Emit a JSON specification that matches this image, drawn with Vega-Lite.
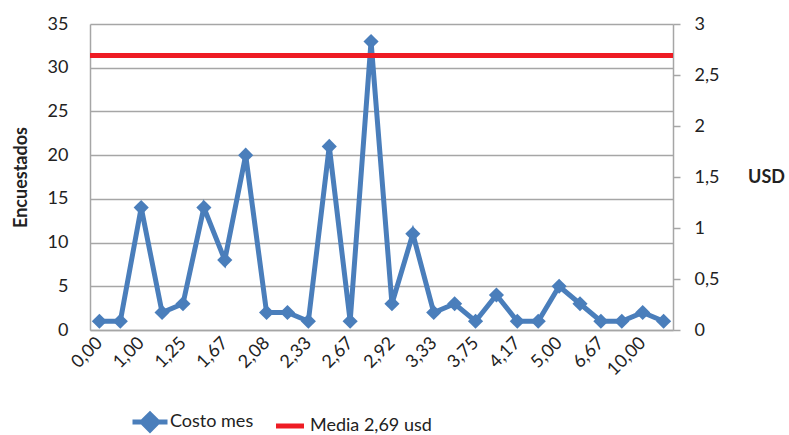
{
  "$schema": "https://vega.github.io/schema/vega-lite/v6.json",
  "width": 583,
  "height": 306,
  "autosize": {"type": "none"},
  "padding": {"left": 90, "top": 24, "right": 116, "bottom": 105},
  "config": {
    "font": "Lato",
    "view": {"stroke": null},
    "axis": {"labelColor": "#222222", "titleColor": "#222222", "labelFontSize": 18, "titleFontSize": 18, "labelFont": "Lato", "titleFont": "Lato"}
  },
  "data": {
    "values": [
      {"costo": "0,00", "n": 1},
      {"costo": "0,50", "n": 1},
      {"costo": "1,00", "n": 14},
      {"costo": "1,17", "n": 2},
      {"costo": "1,25", "n": 3},
      {"costo": "1,50", "n": 14},
      {"costo": "1,67", "n": 8},
      {"costo": "2,00", "n": 20},
      {"costo": "2,08", "n": 2},
      {"costo": "2,17", "n": 2},
      {"costo": "2,33", "n": 1},
      {"costo": "2,50", "n": 21},
      {"costo": "2,67", "n": 1},
      {"costo": "2,83", "n": 33},
      {"costo": "2,92", "n": 3},
      {"costo": "3,00", "n": 11},
      {"costo": "3,33", "n": 2},
      {"costo": "3,50", "n": 3},
      {"costo": "3,75", "n": 1},
      {"costo": "4,00", "n": 4},
      {"costo": "4,17", "n": 1},
      {"costo": "4,58", "n": 1},
      {"costo": "5,00", "n": 5},
      {"costo": "5,83", "n": 3},
      {"costo": "6,67", "n": 1},
      {"costo": "8,33", "n": 1},
      {"costo": "10,00", "n": 2},
      {"costo": "12,50", "n": 1}
    ]
  },
  "layer": [
    {
      "mark": {"type": "line", "strokeWidth": 5, "point": {"shape": "diamond", "size": 230, "filled": true}},
      "encoding": {
        "x": {
          "field": "costo", "type": "ordinal", "sort": null,
          "scale": {"type": "point", "padding": 0.45},
          "axis": {
            "title": null,
            "values": ["0,00","1,00","1,25","1,67","2,08","2,33","2,67","2,92","3,33","3,75","4,17","5,00","6,67","10,00"],
            "labelAngle": -45, "labelAlign": "right", "labelBaseline": "middle",
            "labelPadding": 10, "ticks": false, "domainColor": "#a6a6a6", "domainWidth": 1.5
          }
        },
        "y": {
          "field": "n", "type": "quantitative",
          "scale": {"domain": [0, 35], "nice": false},
          "axis": {
            "values": [0, 5, 10, 15, 20, 25, 30, 35],
            "grid": true, "gridColor": "#a6a6a6", "gridWidth": 1.5,
            "domainColor": "#a6a6a6", "domainWidth": 1.5,
            "ticks": false, "labelPadding": 22,
            "title": "Encuestados", "titleFontWeight": "bold",
            "titleAngle": -90, "titleX": -69, "titleY": 153,
            "titleAlign": "center", "titleBaseline": "middle"
          }
        },
        "color": {
          "datum": "Costo mes",
          "scale": {"domain": ["Costo mes", "Media"], "range": ["#4a7ebb", "#ee1c24"]},
          "legend": {
            "title": null, "orient": "none", "direction": "horizontal",
            "legendX": 40, "legendY": 378,
            "labelFontSize": 18, "labelColor": "#222222", "labelFont": "Lato",
            "labelExpr": "datum.value === 'Costo mes' ? 'Costo mes' : 'Media 2,69 usd'",
            "symbolSize": 1225, "symbolStrokeWidth": 5,
            "columnPadding": 12, "labelOffset": 0, "padding": 0,
            "encode": {
              "symbols": {
                "update": {
                  "shape": {"signal": "datum.value === 'Costo mes' ? 'M-1,0H1M0,-0.45L0.45,0L0,0.45L-0.45,0Z' : 'M-0.8,0H0.8'"},
                  "fill": {"signal": "datum.value === 'Costo mes' ? '#4a7ebb' : 'transparent'"},
                  "stroke": {"signal": "datum.value === 'Costo mes' ? '#4a7ebb' : '#ee1c24'"},
                  "strokeWidth": {"value": 5},
                  "opacity": {"value": 1}
                }
              }
            }
          }
        }
      }
    },
    {
      "mark": {"type": "rule", "strokeWidth": 5},
      "encoding": {
        "y": {
          "datum": 2.69, "type": "quantitative",
          "scale": {"domain": [0, 3], "nice": false},
          "axis": {
            "orient": "right",
            "values": [0, 0.5, 1, 1.5, 2, 2.5, 3],
            "format": "~g",
            "labelExpr": "replace(datum.label, '.', ',')",
            "grid": false, "domainColor": "#a6a6a6", "domainWidth": 1.5,
            "tickColor": "#a6a6a6", "tickWidth": 1.5, "tickSize": 7, "labelPadding": 14,
            "title": "USD", "titleFontWeight": "bold", "titleAngle": 0,
            "titleX": 93, "titleY": 153, "titleAlign": "center", "titleBaseline": "middle"
          }
        },
        "color": {"datum": "Media"}
      }
    }
  ],
  "resolve": {"scale": {"y": "independent"}, "axis": {"y": "independent"}}
}
